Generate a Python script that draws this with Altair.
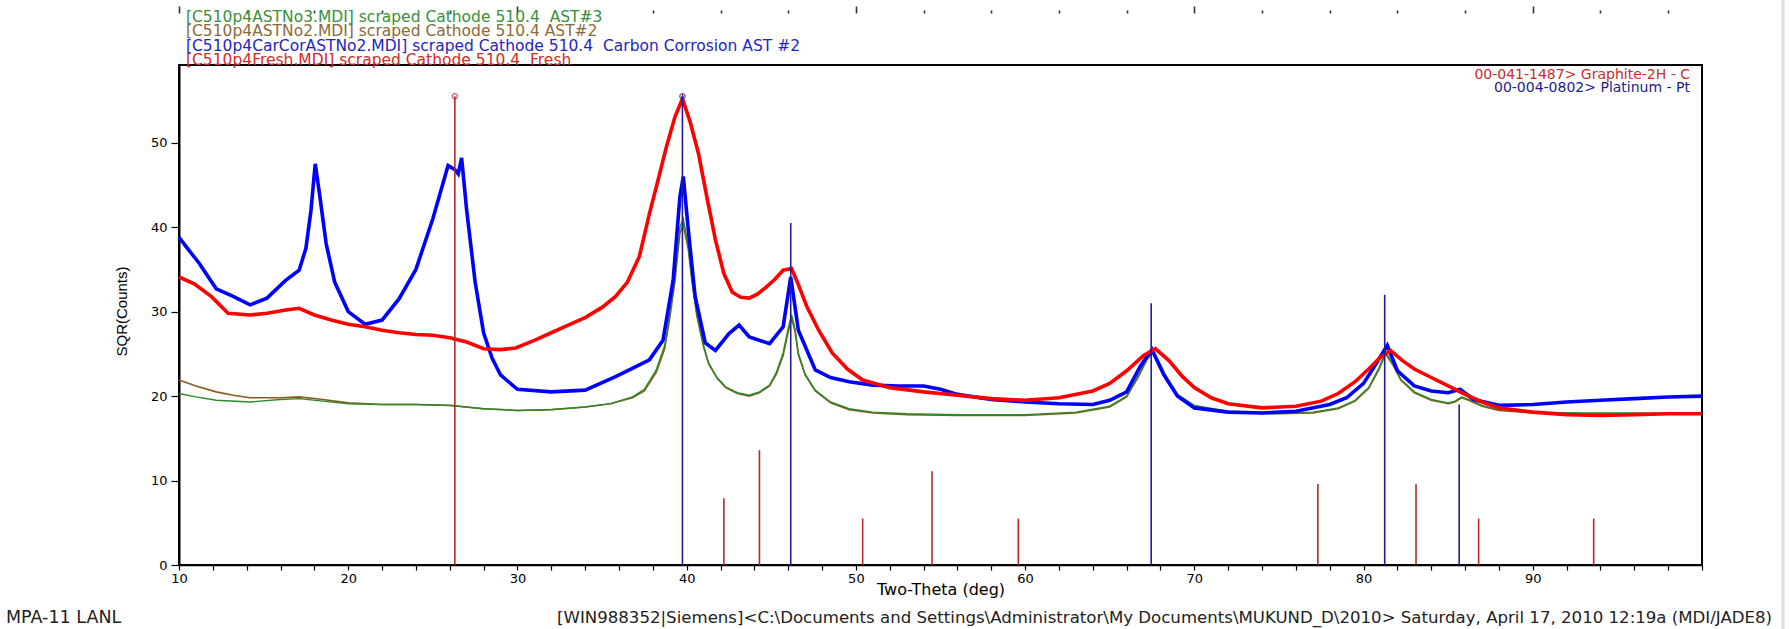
import altair as alt
import pandas as pd

# ---- data (2-theta in deg, SQR(counts)) ----
green_ast3 = [(10,20.3),(11,19.9),(12.2,19.5),(14.2,19.3),(16,19.6),(17.1,19.7),(18.5,19.4),(20,19.1),(22,19.0),(24,19.0),(26,18.9),(28,18.5),(30,18.3),(32,18.4),(34,18.7),(35.5,19.1),(36.8,19.9),(37.5,20.8),(38.2,23.1),(38.7,26),(39.0,29.8),(39.3,34),(39.6,40),(39.8,41),(40.1,37.7),(40.3,34),(40.6,29.8),(41.0,26),(41.3,23.9),(41.8,22.2),(42.3,21.1),(43,20.4),(43.7,20.1),(44.3,20.5),(44.9,21.3),(45.3,22.8),(45.7,25.1),(46.0,28),(46.2,29.6),(46.4,28),(46.6,25.1),(47.0,22.6),(47.6,20.7),(48.5,19.3),(49.6,18.5),(51,18.1),(53,17.9),(56,17.8),(60,17.8),(63,18.1),(65,18.8),(66,20),(66.7,22.5),(67.2,24.5),(67.5,25.3),(67.8,24.5),(68.3,22.5),(69,20.2),(70,18.9),(72,18.2),(75,18),(77,18.1),(78.5,18.6),(79.5,19.5),(80.3,21),(80.9,23.3),(81.3,25.2),(81.7,24),(82.2,22),(83,20.5),(84,19.6),(85,19.2),(85.4,19.4),(85.8,19.9),(86.2,19.6),(87,18.9),(88,18.4),(90,18.1),(93,18),(96,18),(100,17.9)]

brown_ast2 = [(10,21.9),(11,21.2),(12.2,20.5),(13.2,20.1),(14.2,19.8),(16,19.8),(17.1,19.9),(18.5,19.6),(20,19.2),(22,19.0),(24,19.0),(26,18.9),(28,18.5),(30,18.3),(32,18.4),(34,18.7),(35.5,19.1),(36.8,19.8),(37.5,20.6),(38.2,22.8),(38.7,25.6),(39.0,29.2),(39.3,33.5),(39.6,39.3),(39.8,40.3),(40.1,37.3),(40.3,33.8),(40.6,29.5),(41.0,25.8),(41.3,23.8),(41.8,22.1),(42.3,21.0),(43,20.3),(43.7,20.0),(44.3,20.4),(44.9,21.2),(45.3,22.6),(45.7,24.8),(46.0,27.6),(46.2,29.2),(46.4,27.7),(46.6,24.9),(47.0,22.5),(47.6,20.6),(48.5,19.2),(49.6,18.4),(51,18.0),(53,17.8),(56,17.7),(60,17.7),(63,18.0),(65,18.7),(66,19.9),(66.7,22.3),(67.2,24.3),(67.5,25.1),(67.8,24.3),(68.3,22.3),(69,20.1),(70,18.8),(72,18.1),(75,17.9),(77,18.0),(78.5,18.5),(79.5,19.4),(80.3,20.9),(80.9,23.1),(81.3,25.0),(81.7,23.8),(82.2,21.9),(83,20.4),(84,19.5),(85,19.1),(85.4,19.3),(85.8,19.8),(86.2,19.5),(87,18.8),(88,18.3),(90,18.0),(93,17.9),(96,17.9),(100,17.9)]

blue_carcor = [(10,38.8),(10.5,37.5),(11.2,35.7),(12.2,32.7),(13.2,31.8),(14.2,30.8),(15.2,31.6),(16.3,33.7),(17.1,34.9),(17.5,37.5),(17.8,42),(18.05,47.5),(18.3,44),(18.7,38),(19.2,33.5),(20,30),(21,28.5),(22,29),(23,31.5),(24,35),(25,41),(25.5,44.5),(25.9,47.3),(26.3,46.8),(26.5,46.3),(26.7,48.2),(27,42),(27.5,33.5),(28,27.5),(28.5,24.5),(29,22.5),(30,20.8),(32,20.5),(34,20.7),(35.8,22.3),(37,23.5),(37.8,24.3),(38.6,26.6),(39.2,33.7),(39.6,43.6),(39.8,46),(40.1,39.6),(40.5,31.8),(41.1,26.3),(41.7,25.4),(42.5,27.4),(43.1,28.4),(43.7,27.0),(44.9,26.2),(45.7,28.2),(46.15,34.1),(46.6,27.8),(47.6,23.1),(48.5,22.2),(49.6,21.7),(51,21.3),(52.5,21.2),(54,21.2),(55,20.8),(56,20.2),(58,19.6),(60,19.3),(62,19.1),(64,19.0),(65,19.5),(66,20.5),(66.8,23.5),(67.5,25.5),(68.2,22.5),(69,20),(70,18.6),(72,18.1),(74,18.0),(76,18.2),(78,19),(79,19.8),(80,21.5),(80.8,24),(81.4,26),(82,23),(83,21.2),(84,20.6),(85,20.4),(85.7,20.8),(86.5,19.6),(88,18.9),(90,19.0),(92,19.3),(94,19.5),(96,19.7),(98,19.9),(100,20.0)]

red_fresh = [(10,34.1),(10.9,33.3),(11.9,31.8),(12.9,29.8),(14.2,29.6),(15.2,29.8),(16.3,30.2),(17.1,30.4),(18,29.6),(19,29),(20,28.5),(21,28.2),(22,27.8),(23,27.5),(24,27.3),(25,27.2),(26,26.9),(27,26.4),(28,25.6),(29,25.5),(29.9,25.7),(31,26.6),(32,27.5),(33,28.4),(34,29.3),(35,30.5),(35.8,31.8),(36.5,33.5),(37.2,36.5),(37.8,41.6),(38.3,45.5),(38.8,49.5),(39.3,53),(39.75,55.2),(40.2,52.5),(40.7,48.7),(41.2,43.5),(41.7,38.5),(42.2,34.5),(42.7,32.3),(43.2,31.7),(43.7,31.6),(44.2,32.1),(44.7,32.9),(45.2,33.8),(45.7,34.9),(46.2,35.1),(46.6,33.2),(47.1,30.6),(47.8,27.8),(48.6,25.1),(49.5,23.2),(50.4,21.9),(52,21),(54,20.5),(56,20.1),(58,19.7),(60,19.5),(62,19.8),(64,20.6),(65,21.5),(66,23),(67,24.8),(67.7,25.6),(68.5,24.2),(69.3,22.3),(70,21),(71,19.8),(72,19.1),(74,18.6),(76,18.8),(77.5,19.4),(78.5,20.3),(79.5,21.7),(80.3,23.2),(81,24.6),(81.6,25.4),(82.3,24.2),(83,23.2),(84,22.2),(85,21.2),(86,20.2),(87,19.3),(88,18.6),(90,18.1),(92,17.8),(94,17.7),(96,17.8),(98,17.9),(100,17.9)]

graphite_pos = [26.3, 42.2, 44.3, 50.4, 54.5, 59.6, 77.3, 83.1, 86.8, 93.6]
graphite_h = [55.5, 7.9, 13.6, 5.5, 11.1, 5.5, 9.6, 9.6, 5.5, 5.5]
pt_pos = [39.75, 46.15, 67.45, 81.25, 85.65]
pt_h = [55.5, 40.5, 31.0, 32.0, 19.0]

x_ticks = list(range(10, 101, 2))
y_ticks = [0, 10, 20, 30, 40, 50]

NB = "\u00a0"
legend_lines = [
    ("[C510p4ASTNo3.MDI] scraped Cathode 510.4" + NB + " AST#3", "#3a8f3a"),
    ("[C510p4ASTNo2.MDI] scraped Cathode 510.4 AST#2", "#8b6a3a"),
    ("[C510p4CarCorASTNo2.MDI] scraped Cathode 510.4" + NB + " Carbon Corrosion AST #2", "#2424c0"),
    ("[C510p4Fresh.MDI] scraped Cathode 510.4" + NB + " Fresh", "#d42a2a"),
]
ref_lines = [("00-041-1487> Graphite-2H - C", "#cc2a2a"), ("00-004-0802> Platinum - Pt", "#1c1c90")]
footer_left = "MPA-11 LANL"
footer_right = "[WIN988352|Siemens]<C:\\Documents and Settings\\Administrator\\My Documents\\MUKUND_D\\2010> Saturday, April 17, 2010 12:19a (MDI/JADE8)"

W, H = 1523, 500
FONT = "DejaVu Sans"

xscale = alt.Scale(domain=[10, 100], nice=False, zero=False)
yscale = alt.Scale(domain=[0, 59.2], nice=False, zero=False)

x_axis = alt.Axis(
    values=x_ticks, labelExpr="datum.value % 10 == 0 && datum.value < 100 ? datum.label : ''",
    grid=False, domainColor="black", domainWidth=1.5, tickColor="black", tickSize=5, tickWidth=1.2,
    labelFont=FONT, labelFontSize=13, labelColor="black", labelPadding=2, labelFlush=False,
    title="Two-Theta (deg)", titleFont=FONT, titleFontSize=16, titleFontWeight="normal",
    titleColor="black", titleY=24, titleBaseline="middle",
)
y_axis = alt.Axis(
    values=y_ticks, grid=False, domainColor="black", domainWidth=2, tickColor="black",
    tickSize=8, tickWidth=1.2, labelFont=FONT, labelFontSize=13, labelColor="black", labelPadding=4,
    title="SQR(Counts)", titleFont="Liberation Sans", titleFontSize=15, titleFontWeight="normal",
    titleColor="black", titleX=-58, titleY=246, titleBaseline="middle", titleAlign="center",
)


def df_of(pairs):
    return pd.DataFrame(pairs, columns=["deg", "val"])


def curve(pairs, color, width):
    return alt.Chart(df_of(pairs)).mark_line(color=color, strokeWidth=width, interpolate="linear").encode(
        x=alt.X("deg:Q", scale=xscale, axis=x_axis),
        y=alt.Y("val:Q", scale=yscale, axis=y_axis),
    )


lines = alt.layer(
    curve(brown_ast2, "#8b5a1e", 1.6),
    curve(green_ast3, "#2a8a2a", 1.4),
    curve(blue_carcor, "#0000ff", 3.6),
    curve(red_fresh, "#ff0000", 3.6),
)

gr_df = pd.DataFrame({"deg": graphite_pos, "val": graphite_h})
pt_df = pd.DataFrame({"deg": pt_pos, "val": pt_h})

top_axis = alt.Axis(
    orient="top", offset=52, values=x_ticks, labels=False, domain=False, grid=False, title=None,
    tickColor="#333333", tickWidth=1.6,
    tickSize={"condition": {"test": "datum.value % 10 == 0", "value": 7}, "value": 3},
)


def sticks(df, color, axis=None):
    xenc = alt.X("deg:Q", scale=xscale, axis=axis) if axis is not None else alt.X("deg:Q", scale=xscale)
    return alt.Chart(df).mark_rule(color=color, strokeWidth=1.6).encode(
        x=xenc,
        y=alt.Y("val:Q", scale=yscale),
        y2=alt.datum(0),
    )


def top_circle(df, color):
    return alt.Chart(df.head(1)).mark_point(shape="circle", filled=False, size=28, color=color, strokeWidth=1.3).encode(
        x=alt.X("deg:Q", scale=xscale),
        y=alt.Y("val:Q", scale=yscale),
    )


stick_layer = alt.layer(
    sticks(gr_df, "#b22a2a", top_axis),
    sticks(pt_df, "#1e1e9c"),
    top_circle(gr_df, "#b22a2a"),
    top_circle(pt_df, "#1e1e9c"),
)

one = pd.DataFrame({"k": [0]})


def label(text, color, x, y, size, align="left", font=FONT):
    return alt.Chart(one).mark_text(
        text=text, color=color, align=align, baseline="middle", font=font, fontSize=size
    ).encode(x=alt.value(x), y=alt.value(y))


texts = []
for i, (t, c) in enumerate(legend_lines):
    texts.append(label(t, c, 7, -48.5 + i * 14.5, 15.5))
for i, (t, c) in enumerate(ref_lines):
    texts.append(label(t, c, 1511, 9.5 + i * 13.5, 14, align="right"))
texts.append(label(footer_left, "#222222", -173, 553, 17.5))
texts.append(label(footer_right, "#222222", 378, 553, 16.6))

edge = alt.Chart(one).mark_rule(color="#dddddd", strokeWidth=3).encode(
    x=alt.value(1604), y=alt.value(-65), y2=alt.value(564)
)

chart = (
    alt.layer(lines, stick_layer, *texts, edge)
    .resolve_axis(x="independent")
    .properties(
        width=W, height=H,
        autosize=alt.AutoSizeParams(type="none"),
        padding={"left": 179, "top": 65, "right": 89, "bottom": 64},
    )
    .configure(background="white")
    .configure_view(stroke="black", strokeWidth=2)
)

chart.save("out.html", embed_options={"renderer": "svg", "actions": False})
